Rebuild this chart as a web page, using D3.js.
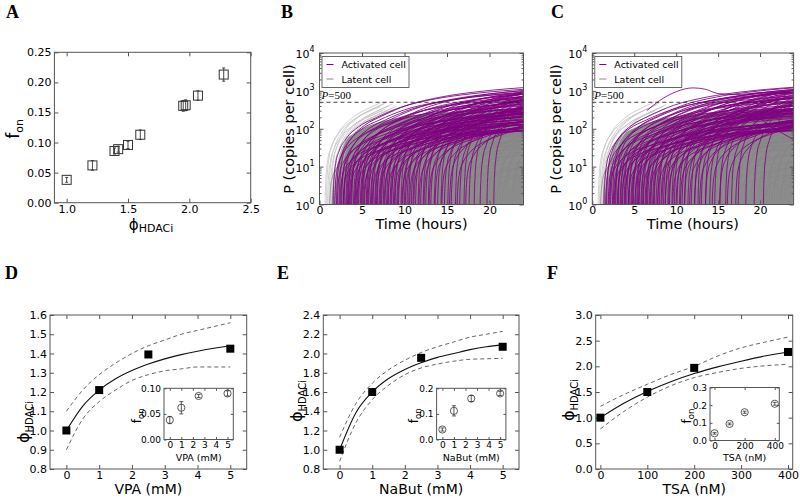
<!DOCTYPE html>
<html><head><meta charset="utf-8">
<script src="https://cdn.jsdelivr.net/npm/d3@7"></script>
<style>body{margin:0;background:#fff}svg{display:block}</style>
</head><body><svg id="c" width="800" height="499"></svg>
<script>
// ---------------- Panel A data ----------------
const phiA = [1.00, 1.21, 1.39, 1.42, 1.50, 1.60, 1.95, 1.97, 2.07, 2.28];
const fonA = [0.038, 0.062, 0.086, 0.089, 0.096, 0.113, 0.161, 0.162, 0.178, 0.213];
const errA = [0.004, 0.008, 0.005, 0.005, 0.006, 0.008, 0.009, 0.009, 0.008, 0.011];
const ticksAx = [1.0, 1.5, 2.0, 2.5];
const ticksAy = [0, 0.05, 0.10, 0.15, 0.20, 0.25];

// ---------------- Panels B, C data ----------------
const timeTicks = [0, 5, 10, 15, 20];
const decades = [1, 10, 100, 1000, 10000];
// typical trajectory shape (hours after onset, log10 copies)
const profileDt  = [0, 0.1, 0.3, 0.7, 1.5, 3, 5, 8, 12, 16, 20, 24];
const profileLog = [0, 0.6, 1.0, 1.3, 1.6, 1.9, 2.12, 2.38, 2.58, 2.7, 2.78, 2.84];
// [onset hour, gain]
const bPurple = [[1.6,1.08],[1.8,0.95],[2.0,1.05],[2.1,0.85],[2.3,1.1],[2.5,0.9],[2.6,1.0],[2.8,0.82],[2.9,1.06],[3.1,0.93],[3.2,0.86],[3.4,1.02],[3.5,0.8],[3.7,0.97],[3.8,1.08],[4.0,0.88],[4.2,1.0],[4.3,0.83],[4.5,1.05],[4.6,0.92],[4.8,0.86],[5.0,1.09],[5.1,0.95],[5.3,0.81],[5.5,1.0],[5.6,0.9],[5.8,1.06],[6.0,0.85],[6.1,0.97],[6.3,1.03],[6.5,0.88],[6.6,0.94],[6.8,1.08],[7.0,0.83],[7.2,1.0],[7.3,0.91],[7.5,1.05],[7.7,0.86],[7.9,0.98],[8.1,1.1],[8.3,0.89],[8.5,1.02],[8.7,0.93],[8.9,1.07],[9.1,0.87],[9.3,1.0],[9.6,1.1],[9.8,0.92],[10.0,1.04],[10.3,0.96],[10.5,1.12],[10.8,0.9],[11.0,1.06],[11.3,0.98],[11.6,1.13],[11.9,0.94],[12.2,1.08],[12.5,1.0],[12.8,1.15],[13.1,0.96],[13.5,1.1],[13.9,1.02],[14.3,1.16],[14.7,1.05],[15.1,1.18],[15.5,1.08],[16.0,1.2],[16.5,1.12],[17.0,1.22],[17.6,1.15],[18.2,1.25],[18.9,1.2],[19.7,1.28],[20.5,1.3]];
const bPurpleLow = [[2.4,0.75],[2.8,0.7],[3.3,0.78],[3.6,0.72],[4.1,0.76],[4.4,0.7],[4.9,0.79],[5.2,0.73],[5.7,0.77],[6.2,0.71],[6.7,0.8],[7.1,0.74],[7.6,0.78],[8.0,0.72],[8.4,0.81],[8.8,0.75],[9.2,0.79],[9.7,0.74],[10.1,0.82],[10.6,0.77],[11.1,0.84],[11.7,0.79],[12.3,0.86],[12.9,0.81],[13.6,0.88],[14.4,0.84],[15.3,0.9],[16.2,0.86],[17.2,0.92]];
const bGray = [[1.2,0.7],[1.5,0.8],[1.8,0.6],[2.0,0.75],[2.3,0.85],[2.6,0.65],[2.9,0.8],[3.2,0.55],[3.5,0.78],[3.8,0.7],[4.1,0.84],[4.4,0.6],[4.7,0.75],[5.0,0.82],[5.3,0.5],[5.6,0.72],[5.9,0.8],[6.2,0.66],[6.5,0.85],[6.8,0.58],[7.1,0.77],[7.4,0.83],[7.7,0.62],[8.0,0.8],[8.3,0.7],[8.6,0.86],[8.9,0.55],[9.2,0.76],[9.5,0.82],[9.8,0.64],[10.1,0.79],[10.4,0.87],[10.7,0.6],[11.0,0.75],[11.3,0.84],[11.6,0.5],[11.9,0.73],[12.2,0.86],[12.5,0.66],[12.8,0.8],[13.1,0.88],[13.4,0.45],[13.7,0.76],[14.0,0.85],[14.3,0.62],[14.6,0.8],[14.9,0.88],[15.2,0.4],[15.5,0.74],[15.8,0.86],[16.1,0.58],[16.4,0.82],[16.7,0.9],[17.0,0.35],[17.3,0.77],[17.6,0.88],[17.9,0.6],[18.2,0.84],[18.5,0.92],[18.8,0.45],[19.1,0.8],[19.4,0.9],[19.7,0.55],[20.0,0.86],[20.3,0.93],[20.6,0.4],[20.9,0.82],[21.2,0.92],[21.5,0.6],[21.8,0.88],[22.1,0.95],[22.4,0.5],[22.7,0.85],[23.0,0.95],[23.3,0.7],[23.6,0.9]];
const bLight = [[0.65,1.15],[0.8,1.2],[0.95,1.1],[1.1,1.18],[1.25,1.12],[1.4,1.2],[1.55,1.1],[1.7,1.16],[1.9,1.12],[2.1,1.18],[2.3,1.1],[2.5,1.15]];
const bGrayFill = [[1.5,1],[2,8],[2.5,25],[3,45],[4,75],[5,100],[6,125],[8,170],[10,210],[12,240],[15,280],[18,310],[21,330],[24,340]];

const cPurple = [[1.4,1.05],[1.6,0.93],[1.7,1.1],[1.9,0.86],[2.1,1.02],[2.2,0.9],[2.4,1.07],[2.5,0.82],[2.7,0.98],[2.8,1.1],[3.0,0.88],[3.1,1.0],[3.3,0.84],[3.4,1.06],[3.6,0.93],[3.8,1.09],[3.9,0.86],[4.1,1.01],[4.3,0.9],[4.4,1.07],[4.6,0.82],[4.8,0.97],[4.9,1.1],[5.1,0.88],[5.3,1.03],[5.4,0.92],[5.6,1.08],[5.8,0.85],[5.9,0.99],[6.1,1.05],[6.3,0.9],[6.5,1.1],[6.6,0.95],[6.8,0.86],[7.0,1.04],[7.2,0.92],[7.4,1.1],[7.6,0.88],[7.8,1.0],[8.0,1.12],[8.2,0.9],[8.5,1.05],[8.7,0.95],[9.0,1.1],[9.2,0.9],[9.5,1.03],[9.8,1.13],[10.1,0.95],[10.4,1.07],[10.7,1.0],[11.0,1.15],[11.4,0.96],[11.8,1.1],[12.2,1.02],[12.6,1.17],[13.0,1.05],[13.5,1.18],[14.0,1.08],[14.6,1.2],[15.2,1.12],[15.9,1.22],[16.6,1.15],[17.4,1.25],[18.3,1.2],[19.3,1.28],[20.4,1.3]];
const cPurpleLow = [[2.0,0.74],[2.6,0.7],[3.0,0.77],[3.5,0.72],[3.9,0.78],[4.3,0.7],[4.7,0.76],[5.1,0.73],[5.5,0.79],[6.0,0.72],[6.4,0.8],[6.9,0.75],[7.3,0.79],[7.8,0.73],[8.3,0.82],[8.7,0.76],[9.1,0.8],[9.6,0.75],[10.0,0.83],[10.5,0.78],[11.0,0.85],[11.6,0.8],[12.2,0.87],[12.8,0.82],[13.5,0.89],[14.3,0.85],[15.2,0.91],[16.1,0.87],[17.1,0.93]];
const cGray = [[1.0,0.72],[1.3,0.8],[1.6,0.62],[1.9,0.78],[2.2,0.86],[2.5,0.66],[2.8,0.8],[3.1,0.56],[3.4,0.79],[3.7,0.7],[4.0,0.85],[4.3,0.6],[4.6,0.76],[4.9,0.83],[5.2,0.52],[5.5,0.73],[5.8,0.81],[6.1,0.66],[6.4,0.86],[6.7,0.58],[7.0,0.78],[7.3,0.84],[7.6,0.62],[7.9,0.81],[8.2,0.7],[8.5,0.87],[8.8,0.55],[9.1,0.77],[9.4,0.83],[9.7,0.64],[10.0,0.8],[10.3,0.88],[10.6,0.6],[10.9,0.76],[11.2,0.85],[11.5,0.5],[11.8,0.74],[12.1,0.87],[12.4,0.66],[12.7,0.81],[13.0,0.89],[13.3,0.45],[13.6,0.77],[13.9,0.86],[14.2,0.62],[14.5,0.81],[14.8,0.89],[15.1,0.4],[15.4,0.75],[15.7,0.87],[16.0,0.58],[16.3,0.83],[16.6,0.91],[16.9,0.35],[17.2,0.78],[17.5,0.89],[17.8,0.6],[18.1,0.85],[18.4,0.93],[18.7,0.45],[19.0,0.81],[19.3,0.91],[19.6,0.55],[19.9,0.87],[20.2,0.94],[20.5,0.4],[20.8,0.83],[21.1,0.93],[21.4,0.6],[21.7,0.89],[22.0,0.96],[22.3,0.5],[22.6,0.86],[22.9,0.96],[23.2,0.7],[23.5,0.92]];
const cLight = [[0.7,1.15],[0.85,1.2],[1.0,1.1],[1.15,1.17],[1.3,1.12],[1.5,1.19],[1.7,1.1],[1.9,1.15],[2.1,1.12],[2.3,1.17]];
const cGrayFill = [[1.3,1],[2,12],[2.5,32],[3,50],[4,80],[5,105],[6,130],[8,175],[10,215],[12,245],[15,285],[18,315],[21,335],[24,345]];
const cPurpleExtra = [
  [[6.5,300],[8,550],[10,950],[12,1200],[13.5,1100],[15,850],[17,800],[20,900],[24,950]],
  [[16.5,330],[18,280],[19.5,210],[21,130],[22.5,80],[24,52]]
];

// ---------------- Panels D, E, F data ----------------
const doseD = [0, 1, 2.5, 5];
const phiD = [1.0, 1.21, 1.395, 1.425];
const fitXD = [0, 0.5, 1, 1.5, 2, 2.5, 3, 3.5, 4, 4.5, 5];
const fitD = [1.0, 1.127, 1.21, 1.269, 1.312, 1.345, 1.372, 1.394, 1.412, 1.427, 1.44];
const upD  = [1.10, 1.21, 1.29, 1.35, 1.40, 1.44, 1.47, 1.50, 1.52, 1.54, 1.56];
const loD  = [0.90, 1.06, 1.15, 1.21, 1.26, 1.29, 1.31, 1.32, 1.33, 1.33, 1.33];
const fonD = [0.038, 0.062, 0.085, 0.090];
const fonErrD = [0.007, 0.012, 0.003, 0.005];

const doseE = [0, 1, 2.5, 5];
const phiE = [1.0, 1.60, 1.955, 2.07];
const fitXE = [0, 0.5, 1, 1.5, 2, 2.5, 3, 3.5, 4, 4.5, 5];
const fitE = [1.0, 1.385, 1.60, 1.74, 1.835, 1.905, 1.96, 2.0, 2.04, 2.07, 2.09];
const upE  = [1.13, 1.48, 1.69, 1.83, 1.93, 2.01, 2.07, 2.12, 2.17, 2.20, 2.23];
const loE  = [0.88, 1.28, 1.52, 1.67, 1.78, 1.85, 1.89, 1.92, 1.94, 1.945, 1.95];
const fonE = [0.039, 0.112, 0.160, 0.180];
const fonErrE = [0.006, 0.020, 0.012, 0.008];

const doseF = [0, 100, 200, 400];
const phiF = [1.0, 1.50, 1.97, 2.28];
const fitXF = [0, 50, 100, 150, 200, 250, 300, 350, 400];
const fitF = [1.0, 1.28, 1.51, 1.70, 1.86, 1.99, 2.10, 2.20, 2.28];
const upF  = [1.22, 1.45, 1.65, 1.84, 2.00, 2.20, 2.36, 2.47, 2.57];
const loF  = [0.78, 1.12, 1.40, 1.62, 1.78, 1.88, 1.96, 2.01, 2.04];
const fonF = [0.041, 0.094, 0.160, 0.208];
const fonErrF = [0.005, 0.005, 0.006, 0.008];

// ---------------- drawing ----------------
const svg = d3.select("#c");
const SP = "#555";
const FONT = "DejaVu Sans";
const fmt = (d) => (v) => v.toFixed(d);

function addAxes(g, box, x, y, o) {
  const tl = o.tl || 4, fs = o.fs || 11, padX = o.padX || 2, padY = o.padY || 3;
  const parts = [];
  parts.push(g.append("g").attr("transform", `translate(0,${box.b})`)
    .call(d3.axisBottom(x).tickValues(o.xt).tickFormat(o.xf).tickSizeInner(-tl).tickSizeOuter(0).tickPadding(padX)));
  parts.push(g.append("g").attr("transform", `translate(0,${box.t})`)
    .call(d3.axisTop(x).tickValues(o.xt).tickFormat("").tickSizeInner(-tl).tickSizeOuter(0)));
  parts.push(g.append("g").attr("transform", `translate(${box.l},0)`)
    .call(d3.axisLeft(y).tickValues(o.yt).tickFormat(o.yf).tickSizeInner(-tl).tickSizeOuter(0).tickPadding(padY)));
  parts.push(g.append("g").attr("transform", `translate(${box.r},0)`)
    .call(d3.axisRight(y).tickValues(o.yt).tickFormat("").tickSizeInner(-tl).tickSizeOuter(0)));
  parts.forEach(s => {
    s.attr("font-family", FONT).attr("font-size", fs).attr("color", SP);
    s.select(".domain").remove();
    s.selectAll("text").attr("fill", "#000");
  });
  g.append("rect").attr("x", box.l).attr("y", box.t)
    .attr("width", box.r - box.l).attr("height", box.b - box.t)
    .attr("fill", "none").attr("stroke", SP).attr("stroke-width", 1);
}

function letter(txt, x, y) {
  svg.append("text").attr("x", x).attr("y", y).text(txt)
    .attr("font-family", "Liberation Serif").attr("font-weight", "bold").attr("font-size", 18);
}

function subLabel(g, main, sub, x, y, mainSize, subSize, rotate, subDy) {
  const t = g.append("text").attr("text-anchor", "middle").attr("font-family", FONT)
    .attr("transform", `translate(${x},${y})` + (rotate ? " rotate(-90)" : ""));
  t.append("tspan").attr("font-size", mainSize).text(main);
  t.append("tspan").attr("font-size", subSize).attr("dy", subDy).text(sub);
  return t;
}

function plainLabel(g, txt, x, y, size, rotate) {
  g.append("text").attr("text-anchor", "middle").attr("font-family", FONT).attr("font-size", size)
    .attr("transform", `translate(${x},${y})` + (rotate ? " rotate(-90)" : "")).text(txt);
}

// ---------- Panel A ----------
(function () {
  const box = {l: 54.4, r: 250.7, t: 52.3, b: 202.7};
  const g = svg.append("g");
  const x = d3.scaleLinear().domain([0.9, 2.5]).range([box.l, box.r]);
  const y = d3.scaleLinear().domain([0, 0.25]).range([box.b, box.t]);
  addAxes(g, box, x, y, {xt: ticksAx, yt: ticksAy, xf: fmt(1), yf: fmt(2), fs: 11});
  const pts = phiA.map((p, i) => ({p, f: fonA[i], e: errA[i]}));
  const s = 9;
  const m = g.append("g");
  pts.forEach(d => {
    const cx = x(d.p), cy = y(d.f);
    m.append("rect").attr("x", cx - s / 2).attr("y", cy - s / 2).attr("width", s).attr("height", s)
      .attr("fill", "none").attr("stroke", "#333").attr("stroke-width", 1);
    m.append("line").attr("x1", cx).attr("x2", cx).attr("y1", y(d.f - d.e)).attr("y2", y(d.f + d.e)).attr("stroke", "#333").attr("stroke-width", 0.9);
    [d.f - d.e, d.f + d.e].forEach(v => m.append("line").attr("x1", cx - 1.5).attr("x2", cx + 1.5).attr("y1", y(v)).attr("y2", y(v)).attr("stroke", "#333").attr("stroke-width", 0.9));
  });
  subLabel(g, "ϕ", "HDACi", 151, 230, 15, 11, false, 2);
  subLabel(g, "f", "on", 19, 129, 17, 11, true, 4);
  letter("A", 6, 18);
})();

// ---------- Panels B, C ----------
function interpProfile(dt) {
  const i = d3.bisectRight(profileDt, dt);
  if (i >= profileDt.length) return profileLog[profileLog.length - 1];
  const a = i - 1, t = (dt - profileDt[a]) / (profileDt[i] - profileDt[a]);
  return profileLog[a] + t * (profileLog[i] - profileLog[a]);
}
function traj(onset, gain, tEnd) {
  const pts = [[onset - 0.01, 0.6]];
  for (let k = 0; k < profileDt.length; k++) {
    const t = onset + profileDt[k];
    if (t >= tEnd) { pts.push([tEnd, Math.pow(10, gain * interpProfile(tEnd - onset))]); break; }
    pts.push([t, Math.pow(10, gain * profileLog[k])]);
  }
  return pts;
}

function trajPanel(box, id, purple, gray, light, fill, extra) {
  const g = svg.append("g");
  const x = d3.scaleLinear().domain([0, 24]).range([box.l, box.r]);
  const y = d3.scaleLog().domain([1, 10000]).range([box.b, box.t]);
  g.append("clipPath").attr("id", id).append("rect")
    .attr("x", box.l).attr("y", box.t).attr("width", box.r - box.l).attr("height", box.b - box.t);
  const pl = g.append("g").attr("clip-path", `url(#${id})`);
  const line = d3.line().x(d => x(d[0])).y(d => y(Math.max(d[1], 0.5))).curve(d3.curveMonotoneX);
  const area = d3.area().x(d => x(d[0])).y0(box.b + 2).y1(d => y(d[1])).curve(d3.curveMonotoneX);
  pl.append("path").attr("d", area(fill)).attr("fill", "#8d8d8d");
  light.forEach(d => pl.append("path").attr("d", line(traj(d[0], d[1], Math.min(24, d[0] + 6.5))))
    .attr("fill", "none").attr("stroke", "#c4c4c4").attr("stroke-width", 0.8));
  gray.forEach(d => pl.append("path").attr("d", line(traj(d[0], d[1], 24)))
    .attr("fill", "none").attr("stroke", "#888").attr("stroke-width", 0.8));
  purple.forEach(d => pl.append("path").attr("d", line(traj(d[0], d[1], 24)))
    .attr("fill", "none").attr("stroke", "#800080").attr("stroke-width", 0.85));
  (extra || []).forEach(p => pl.append("path").attr("d", line(p))
    .attr("fill", "none").attr("stroke", "#800080").attr("stroke-width", 0.85));
  pl.append("line").attr("x1", x(0)).attr("x2", x(24)).attr("y1", y(500)).attr("y2", y(500))
    .attr("stroke", "#222").attr("stroke-width", 1).attr("stroke-dasharray", "4,3").attr("opacity", 0.85);
  const pt = g.append("text").attr("x", box.l + 2).attr("y", y(500) - 3)
    .attr("font-family", "Liberation Serif").attr("font-size", 11);
  pt.append("tspan").attr("font-style", "italic").text("P");
  pt.append("tspan").text("=500");

  addAxes(g, box, x, y, {xt: timeTicks, yt: decades, xf: d3.format("d"), yf: () => "", fs: 11});
  const minors = [];
  [1, 10, 100, 1000].forEach(dd => { for (let k = 2; k <= 9; k++) minors.push(dd * k); });
  [[box.l, d3.axisLeft], [box.r, d3.axisRight]].forEach(([px, ax]) => {
    const s = g.append("g").attr("transform", `translate(${px},0)`)
      .call(ax(y).tickValues(minors).tickFormat("").tickSizeInner(-2).tickSizeOuter(0));
    s.attr("color", SP); s.select(".domain").remove();
  });
  decades.forEach((v, i) => {
    const t = g.append("text").attr("x", box.l - 5).attr("y", y(v) + 5).attr("text-anchor", "end")
      .attr("font-family", FONT).attr("font-size", 11);
    t.append("tspan").text("10");
    t.append("tspan").attr("font-size", 8).attr("dy", -6).text(String(i));
  });
  const lg = g.append("g");
  lg.append("rect").attr("x", box.l + 2.5).attr("y", box.t + 3.5).attr("width", 87).attr("height", 31)
    .attr("fill", "#fff").attr("stroke", "#444").attr("stroke-width", 0.8);
  [["Activated cell", "#800080"], ["Latent cell", "#888"]].forEach((d, i) => {
    const yy = box.t + 11.5 + i * 14.5;
    lg.append("line").attr("x1", box.l + 7).attr("x2", box.l + 14).attr("y1", yy).attr("y2", yy)
      .attr("stroke", d[1]).attr("stroke-width", 1);
    lg.append("text").attr("x", box.l + 22).attr("y", yy + 3.5).attr("font-family", FONT)
      .attr("font-size", 9.5).text(d[0]);
  });
  return {g, x};
}

(function () {
  const box = {l: 319.5, r: 523.5, t: 53, b: 204.5};
  const {g} = trajPanel(box, "clipB", bPurple.concat(bPurpleLow), bGray, bLight, bGrayFill, []);
  plainLabel(g, "Time (hours)", (box.l + box.r) / 2, 229, 14.5, false);
  plainLabel(g, "P (copies per cell)", 294, 129, 14.5, true);
  letter("B", 281, 18);
})();
(function () {
  const box = {l: 592.3, r: 793.6, t: 53, b: 204.5};
  const {g} = trajPanel(box, "clipC", cPurple.concat(cPurpleLow), cGray, cLight, cGrayFill, cPurpleExtra);
  plainLabel(g, "Time (hours)", (box.l + box.r) / 2, 229, 14.5, false);
  plainLabel(g, "P (copies per cell)", 561, 129, 14.5, true);
  letter("C", 551, 18);
})();

// ---------- Panels D, E, F ----------
function dosePanel(o) {
  const {box, ib} = o;
  const g = svg.append("g");
  const x = d3.scaleLinear().domain(o.xd).range([box.l, box.r]);
  const y = d3.scaleLinear().domain(o.yd).range([box.b, box.t]);
  addAxes(g, box, x, y, {xt: o.xt, yt: o.yt, xf: d3.format("d"), yf: fmt(1), fs: 11});
  const line = d3.line().x(d => x(d[0])).y(d => y(d[1])).curve(d3.curveMonotoneX);
  [o.up, o.lo].forEach(arr => g.append("path").attr("d", line(o.fitX.map((v, i) => [v, arr[i]])))
    .attr("fill", "none").attr("stroke", "#555").attr("stroke-width", 0.9).attr("stroke-dasharray", "4,3"));
  g.append("path").attr("d", line(o.fitX.map((v, i) => [v, o.fit[i]])))
    .attr("fill", "none").attr("stroke", "#111").attr("stroke-width", 1.1);
  o.dose.forEach((v, i) => g.append("rect").attr("x", x(v) - 4).attr("y", y(o.phi[i]) - 4)
    .attr("width", 8).attr("height", 8).attr("fill", "#000"));
  plainLabel(g, o.xlab, (box.l + box.r) / 2, 494, 14, false);
  subLabel(g, "ϕ", "HDACi", o.ylx, o.yly, 16, 10, true, 4);
  letter(o.letter, o.lx, 279);

  const ig = g.append("g");
  ig.append("rect").attr("x", ib.l).attr("y", ib.t).attr("width", ib.r - ib.l).attr("height", ib.b - ib.t).attr("fill", "#fff");
  const ix = d3.scaleLinear().domain(o.ixd).range([ib.l, ib.r]);
  const iy = d3.scaleLinear().domain(o.iyd).range([ib.b, ib.t]);
  addAxes(ig, ib, ix, iy, {xt: o.ixt, yt: o.iyt, xf: d3.format("d"), yf: fmt(o.iyDec), fs: 9, tl: 2.5, padX: 2, padY: 3});
  o.dose.forEach((v, i) => {
    const cx = ix(v), cy = iy(o.fon[i]);
    const e = o.fonErr[i];
    ig.append("line").attr("x1", cx).attr("x2", cx).attr("y1", iy(o.fon[i] - e)).attr("y2", iy(o.fon[i] + e)).attr("stroke", "#333").attr("stroke-width", 0.8);
    [o.fon[i] - e, o.fon[i] + e].forEach(w => ig.append("line").attr("x1", cx - 2).attr("x2", cx + 2).attr("y1", iy(w)).attr("y2", iy(w)).attr("stroke", "#333").attr("stroke-width", 0.8));
    ig.append("circle").attr("cx", cx).attr("cy", cy).attr("r", 3.6).attr("fill", "none").attr("stroke", "#333").attr("stroke-width", 0.8);
  });
  plainLabel(ig, o.ixlab, (ib.l + ib.r) / 2, 461, 9.5, false);
  subLabel(ig, "f", "on", ib.l - o.ilOff, (ib.t + ib.b) / 2 + 2, 12, 8.5, true, 3);
}

dosePanel({
  box: {l: 50, r: 246.7, t: 315, b: 469}, ib: {l: 164, r: 233.3, t: 388.3, b: 439.5},
  xd: [-0.5, 5.5], yd: [0.8, 1.6], xt: [0, 1, 2, 3, 4, 5], yt: [0.8, 0.9, 1.0, 1.1, 1.2, 1.3, 1.4, 1.5, 1.6],
  dose: doseD, phi: phiD, fitX: fitXD, fit: fitD, up: upD, lo: loD, fon: fonD, fonErr: fonErrD,
  ixd: [-0.5, 5.5], iyd: [0, 0.1], ixt: [0, 1, 2, 3, 4, 5], iyt: [0, 0.05, 0.10], iyDec: 2,
  xlab: "VPA (mM)", ixlab: "VPA (mM)", ylx: 29, yly: 422, letter: "D", lx: 5, ilOff: 23
});
dosePanel({
  box: {l: 323.3, r: 519, t: 315, b: 469}, ib: {l: 436.6, r: 505.9, t: 388.3, b: 439.5},
  xd: [-0.5, 5.5], yd: [0.8, 2.4], xt: [0, 1, 2, 3, 4, 5], yt: [0.8, 1.0, 1.2, 1.4, 1.6, 1.8, 2.0, 2.2, 2.4],
  dose: doseE, phi: phiE, fitX: fitXE, fit: fitE, up: upE, lo: loE, fon: fonE, fonErr: fonErrE,
  ixd: [-0.5, 5.5], iyd: [0, 0.2], ixt: [0, 1, 2, 3, 4, 5], iyt: [0, 0.1, 0.2], iyDec: 1,
  xlab: "NaBut (mM)", ixlab: "NaBut (mM)", ylx: 302, yly: 401, letter: "E", lx: 277, ilOff: 19
});
dosePanel({
  box: {l: 595.7, r: 792.7, t: 315, b: 469}, ib: {l: 710, r: 779.3, t: 387.5, b: 440.5},
  xd: [-10, 410], yd: [0, 3], xt: [0, 100, 200, 300, 400], yt: [0, 0.5, 1.0, 1.5, 2.0, 2.5, 3.0],
  dose: doseF, phi: phiF, fitX: fitXF, fit: fitF, up: upF, lo: loF, fon: fonF, fonErr: fonErrF,
  ixd: [-30, 430], iyd: [0, 0.3], ixt: [0, 200, 400], iyt: [0, 0.1, 0.2, 0.3], iyDec: 1,
  xlab: "TSA (nM)", ixlab: "TSA (nM)", ylx: 574, yly: 400, letter: "F", lx: 547, ilOff: 19
});
</script></body></html>
